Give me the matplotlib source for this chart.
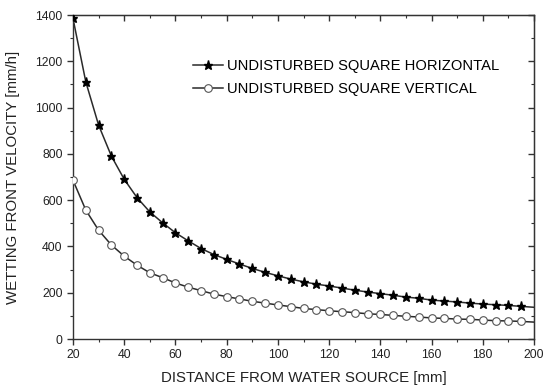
import numpy as np
import matplotlib.pyplot as plt
from matplotlib.ticker import MultipleLocator

plt.rcParams['font.family'] = ['Liberation Sans', 'DejaVu Sans']

# marker positions (mm)
distance = np.arange(20, 200, 5)

# [mm/h]
horizontal = [1385, 1111, 924, 790, 690, 611, 549, 502, 459, 424, 391, 365,
              344, 324, 305, 288, 273, 259, 247, 237, 229, 220, 211, 203,
              196, 189, 181, 176, 168, 164, 160, 155, 151, 148, 145, 141]
vertical = [686, 557, 470, 406, 358, 319, 286, 265, 242, 224, 209, 194,
            183, 173, 163, 155, 147, 140, 132, 127, 122, 118, 114, 109,
            106, 102, 98, 95, 91, 89, 86, 85, 82, 79, 78, 76]
# end of the fitted curves at 200 mm
end_h = 137
end_v = 73

line_x = list(distance) + [200]

fig = plt.figure(figsize=(5.5, 3.91), dpi=100)
ax = fig.add_axes([73 / 550, 1 - 339 / 391, 461 / 550, 324 / 391])

lc = '#2a2a2a'
star = dict(marker='*', ms=6.8, mfc='black', mec='black')
circ = dict(marker='o', ms=5.5, mfc='white', mec='#555555', mew=0.8)

ax.plot(line_x, horizontal + [end_h], color=lc, lw=1.1, zorder=2)
ax.plot(line_x, vertical + [end_v], color=lc, lw=1.1, zorder=2)
ax.plot(distance, horizontal, ls='none', zorder=3, **star)
ax.plot(distance, vertical, ls='none', zorder=3, **circ)

# legend drawn as proxy handles
h1, = ax.plot([], [], color=lc, lw=1.1, **star)
h2, = ax.plot([], [], color=lc, lw=1.1, **circ)
ax.legend([h1, h2], ['UNDISTURBED SQUARE HORIZONTAL', 'UNDISTURBED SQUARE VERTICAL'],
          loc='upper left', bbox_to_anchor=(0.232, 0.905), frameon=False,
          fontsize=10.6, handlelength=2.0, handletextpad=0.3, labelspacing=0.62)

ax.set_xlim(20, 200)
ax.set_ylim(0, 1400)
ax.xaxis.set_major_locator(MultipleLocator(20))
ax.xaxis.set_minor_locator(MultipleLocator(10))
ax.yaxis.set_major_locator(MultipleLocator(200))
ax.yaxis.set_minor_locator(MultipleLocator(100))

for s in ax.spines.values():
    s.set_color('#333333')
    s.set_linewidth(1.0)

ax.tick_params(which='both', direction='out', top=False, right=False,
               color='#333333', labelsize=8.8, labelcolor='#222222')
ax.tick_params(which='major', length=4, width=1.0)
ax.tick_params(which='minor', length=2.5, width=0.8)

# mirrored ticks on top/right pointing inward
sec_x = ax.secondary_xaxis('top')
sec_x.xaxis.set_major_locator(MultipleLocator(20))
sec_x.xaxis.set_minor_locator(MultipleLocator(10))
sec_x.tick_params(which='both', direction='in', labeltop=False, color='#333333')
sec_x.tick_params(which='major', length=4, width=1.0)
sec_x.tick_params(which='minor', length=2.5, width=0.8)
sec_y = ax.secondary_yaxis('right')
sec_y.yaxis.set_major_locator(MultipleLocator(200))
sec_y.yaxis.set_minor_locator(MultipleLocator(100))
sec_y.tick_params(which='both', direction='in', labelright=False, color='#333333')
sec_y.tick_params(which='major', length=4, width=1.0)
sec_y.tick_params(which='minor', length=2.5, width=0.8)

ax.set_xlabel('DISTANCE FROM WATER SOURCE [mm]', fontsize=10.8, color='#222222',
              labelpad=7)
ax.set_ylabel('WETTING FRONT VELOCITY [mm/h]', fontsize=10.8, color='#222222',
              labelpad=11)

fig.savefig('out.png', dpi=100)
